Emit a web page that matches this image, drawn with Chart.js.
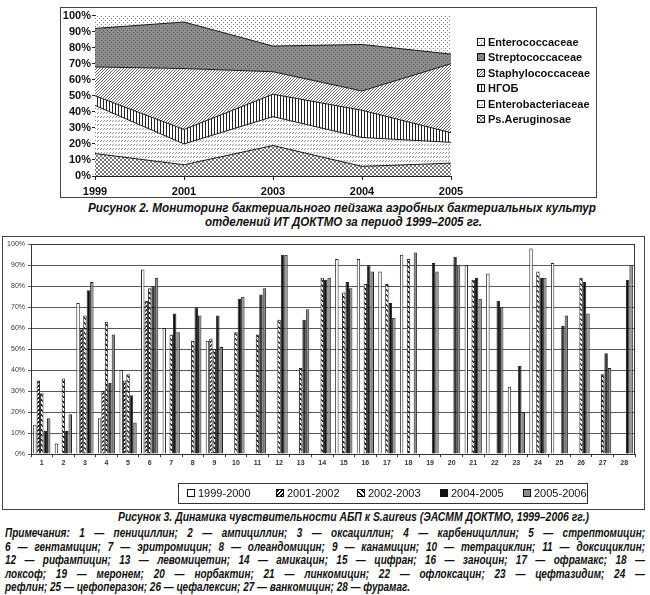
<!DOCTYPE html>
<html>
<head>
<meta charset="utf-8">
<title>Рисунки 2 и 3</title>
<script src="https://cdn.jsdelivr.net/npm/chart.js@4.4.1/dist/chart.umd.min.js"></script>
<style>
  body { margin: 0; width: 650px; height: 595px; overflow: hidden; background: #fff; position: relative;
         font-family: "Liberation Sans", Arial, sans-serif; color: #111; }
  .frame { position: absolute; border: 1px solid #444; }
  #frame1 { left: 60px; top: 7px; width: 535px; height: 189px; }
  #frame2 { left: 2px; top: 236px; width: 641px; height: 272px; }
  canvas { display: block; }
  .txt { position: absolute; white-space: nowrap; font-weight: bold; font-style: italic; line-height: 14px;
         transform-origin: 0 50%; }
</style>
</head>
<body>
<div class="frame" id="frame1"><canvas id="areaChart" width="535" height="189"></canvas></div>
<div class="frame" id="frame2"><canvas id="barChart" width="641" height="272"></canvas></div>
<div id="texts"></div>
<script>
// Рисунок 2 - структура флоры, %
const years = ['1999', '2001', '2003', '2004', '2005'];
const psAeruginosae = [14, 7, 19, 6, 8];
const enterobacteriaceae = [30, 13, 18, 18, 13];
const ngob = [6, 9, 14, 17, 6];
const staphylococcaceae = [18, 38, 14, 12, 43];
const streptococcaceae = [24, 29, 16, 29, 6];
const enterococcaceae = [8, 4, 19, 18, 24];

// Рисунок 3 - чувствительность S.aureus, %
const drugNumbers = ['1', '2', '3', '4', '5', '6', '7', '8', '9', '10', '11', '12', '13', '14',
                     '15', '16', '17', '18', '19', '20', '21', '22', '23', '24', '25', '26', '27', '28'];
const periods = ['1999-2000', '2001-2002', '2002-2003', '2004-2005', '2005-2006'];
const sens1999 = [14, 5, 72, 17, 40, 88, 60, null, 54, null, null, null, null, null,
                  93, 93, 87, 95, null, null, 90, 86, 32, 98, 91, null, null, null];
const sens2001 = [35, null, 60, 30, 35, 73, null, null, 55, null, null, null, null, null,
                  null, null, null, null, null, null, null, null, null, null, null, null, null, null];
const sens2002 = [29, 36, 66, 63, 38, 79, 57, 54, 50, 58, 57, 64, 41, 84,
                  77, 81, 81, 93, null, null, 83, null, null, 87, null, 84, 38, null];
const sens2004 = [11, 11, 78, 34, 28, 80, 67, 70, 66, 74, 76, 95, 64, 83,
                  82, 90, 72, null, 91, 94, 84, 73, 42, 84, 61, 82, 48, 83];
const sens2005 = [17, 19, 82, 57, 15, 84, 58, 66, 51, 75, 79, 95, 69, 84,
                  79, 87, 65, 96, 87, 90, 74, 70, 20, 84, 66, 67, 41, 90];

const caption2 = ['Рисунок 2. Мониторинг бактериального пейзажа аэробных бактериальных культур',
                  'отделений ИТ ДОКТМО за период 1999–2005 гг.'];
const caption3 = 'Рисунок 3. Динамика чувствительности АБП к S.aureus (ЭАСММ ДОКТМО, 1999–2006 гг.)';
const notes = [
  'Примечания: 1 — пенициллин; 2 — ампициллин; 3 — оксациллин; 4 — карбенициллин; 5 — стрептомицин;',
  '6 — гентамицин; 7 — эритромицин; 8 — олеандомицин; 9 — канамицин; 10 — тетрациклин; 11 — доксициклин;',
  '12 — рифампицин; 13 — левомицетин; 14 — амикацин; 15 — цифран; 16 — заноцин; 17 — офрамакс; 18 —',
  'локсоф; 19 — меронем; 20 — норбактин; 21 — линкомицин; 22 — офлоксацин; 23 — цефтазидим; 24 —',
  'рефлин; 25 — цефоперазон; 26 — цефалексин; 27 — ванкомицин; 28 — фурамаг.'
];

// штриховки
function pattern(w, h, bg, color, pts) {
  const c = document.createElement('canvas');
  c.width = w; c.height = h;
  const g = c.getContext('2d');
  g.fillStyle = bg;
  g.fillRect(0, 0, w, h);
  g.fillStyle = color;
  pts.forEach(p => g.fillRect(p[0], p[1], 1, 1));
  return g.createPattern(c, 'repeat');
}

const fillEnteroc = pattern(4, 4, '#fff', '#808080', [[0, 0], [2, 2]]);
const fillStrep = pattern(4, 4, '#8e8e8e', '#4a4a4a', [[0, 0], [2, 2]]);
const fillStaph = pattern(3, 3, '#fff', '#6a6a6a', [[2, 0], [1, 1], [0, 2]]);
const fillNgob = pattern(3, 1, '#fff', '#222', [[0, 0]]);
const fillEnterob = pattern(6, 4, '#fff', '#909090', [[0, 1], [1, 0], [3, 1], [4, 0]]);
const fillPs = pattern(4, 4, '#fff', '#777', [[0, 0], [1, 1], [2, 2], [3, 3], [3, 0], [2, 1], [1, 2], [0, 3]]);

const fillWhite = '#fff';
const fillChevron = pattern(4, 4, '#fff', '#111', [[0, 3], [1, 2], [2, 1], [3, 0], [1, 3], [2, 2], [3, 1], [0, 0]]);
const fillDiag = pattern(5, 5, '#fff', '#111', [[0, 0], [1, 1], [2, 2], [3, 3], [4, 4], [1, 0], [2, 1], [3, 2], [4, 3], [0, 4]]);
const fillBlack = '#111';
const fillGray = '#8c8c8c';

// легенда с рамкой, рисуется поверх графика
const boxLegend = {
  id: 'boxLegend',
  afterDraw(chart, args, o) {
    const ctx = chart.ctx;
    ctx.save();
    ctx.lineWidth = 1;
    if (o.frame) {
      ctx.strokeStyle = '#333';
      ctx.strokeRect(o.frame[0] + 0.5, o.frame[1] + 0.5, o.frame[2], o.frame[3]);
    }
    ctx.font = o.font;
    ctx.textBaseline = 'middle';
    o.order.forEach((di, k) => {
      const ds = chart.data.datasets[di];
      const x = Array.isArray(o.x) ? o.x[k] : o.x;
      const y = Array.isArray(o.y) ? o.y[k] : o.y;
      const top = Math.round(y - o.box / 2);
      ctx.fillStyle = ds.backgroundColor;
      ctx.fillRect(x, top, o.box, o.box);
      ctx.strokeStyle = '#111';
      ctx.strokeRect(x + 0.5, top + 0.5, o.box - 1, o.box - 1);
      ctx.fillStyle = '#111';
      ctx.fillText(ds.label, x + o.box + 3, y + 0.5);
    });
    ctx.restore();
  }
};

// рамка области построения
const plotFrame = {
  id: 'plotFrame',
  afterDatasetsDraw(chart) {
    const a = chart.chartArea, ctx = chart.ctx;
    ctx.save();
    ctx.strokeStyle = '#333';
    ctx.lineWidth = 1;
    ctx.strokeRect(Math.round(a.left) + 0.5, Math.round(a.top) + 0.5,
                   Math.round(a.right - a.left) - 1, Math.round(a.bottom - a.top));
    ctx.restore();
  }
};

Chart.defaults.font.family = '"Liberation Sans", Arial, sans-serif';
Chart.defaults.color = '#111';

const areaSeries = [
  { name: 'Ps.Aeruginosae', values: psAeruginosae, fill: fillPs },
  { name: 'Enterobacteriaceae', values: enterobacteriaceae, fill: fillEnterob },
  { name: 'НГОБ', values: ngob, fill: fillNgob },
  { name: 'Staphylococcaceae', values: staphylococcaceae, fill: fillStaph },
  { name: 'Streptococcaceae', values: streptococcaceae, fill: fillStrep },
  { name: 'Enterococcaceae', values: enterococcaceae, fill: fillEnteroc }
];

new Chart(document.getElementById('areaChart'), {
  type: 'line',
  data: {
    labels: years,
    datasets: areaSeries.map((s, i) => ({
      label: s.name,
      data: s.values,
      fill: i === 0 ? 'origin' : '-1',
      backgroundColor: s.fill,
      borderColor: '#1a1a1a',
      borderWidth: i === areaSeries.length - 1 ? 0 : 1,
      pointRadius: 0,
      tension: 0
    }))
  },
  options: {
    responsive: false,
    animation: false,
    layout: { padding: { left: 0, right: 145, top: 7, bottom: 0 } },
    plugins: {
      legend: { display: false },
      tooltip: { enabled: false },
      boxLegend: { x: 416, y: [34, 49, 65, 80, 96, 111], order: [5, 4, 3, 2, 1, 0], box: 8,
                   font: 'bold 11px "Liberation Sans", Arial, sans-serif' }
    },
    scales: {
      x: {
        grid: { drawOnChartArea: false, tickLength: 4, color: '#222' },
        border: { color: '#222' },
        ticks: { font: { size: 11, weight: 'bold' }, padding: 5, maxRotation: 0 },
        afterFit: s => { s.height = 21; }
      },
      y: {
        stacked: true, min: 0, max: 100,
        grid: { drawOnChartArea: false, tickLength: 3, color: '#222' },
        border: { color: '#222' },
        ticks: { stepSize: 10, autoSkip: false, callback: v => v + '%',
                 font: { size: 11, weight: 'bold' }, padding: 1 },
        afterFit: s => { s.width = 34; }
      }
    }
  },
  plugins: [boxLegend]
});

const barSeries = [
  { values: sens1999, fill: fillWhite },
  { values: sens2001, fill: fillChevron },
  { values: sens2002, fill: fillDiag },
  { values: sens2004, fill: fillBlack },
  { values: sens2005, fill: fillGray }
];

new Chart(document.getElementById('barChart'), {
  type: 'bar',
  data: {
    labels: drugNumbers,
    datasets: barSeries.map((s, i) => ({
      label: periods[i],
      data: s.values,
      backgroundColor: s.fill,
      borderColor: '#222',
      borderWidth: 1,
      categoryPercentage: 0.8,
      barPercentage: 1
    }))
  },
  options: {
    responsive: false,
    animation: false,
    layout: { padding: { left: 0, right: 9, top: 7, bottom: 0 } },
    plugins: {
      legend: { display: false },
      tooltip: { enabled: false },
      boxLegend: { x: [184, 273, 354, 437, 520], y: 256, order: [0, 1, 2, 3, 4], box: 8,
                   frame: [175, 246, 409, 20], font: '11px "Liberation Sans", Arial, sans-serif' }
    },
    scales: {
      x: {
        grid: { drawOnChartArea: false, tickLength: 3, color: '#333' },
        border: { color: '#333' },
        ticks: { font: { size: 7, weight: 'bold' }, padding: 2, maxRotation: 0, autoSkip: false, color: '#333' },
        afterFit: s => { s.height = 55; }
      },
      y: {
        min: 0, max: 100,
        grid: { color: '#5a5a5a', tickLength: 3 },
        border: { color: '#333' },
        ticks: { stepSize: 10, autoSkip: false, callback: v => v + '%', font: { size: 7 }, padding: 3, color: '#333' },
        afterFit: s => { s.width = 28; }
      }
    }
  },
  plugins: [boxLegend, plotFrame]
});

// подписи и примечания (шрифт в оригинале узкий - поджимаем по ширине)
const measure = document.createElement('canvas').getContext('2d');
function natWidth(text, size) {
  measure.font = 'italic bold ' + size + 'px "Liberation Sans", Arial, sans-serif';
  return measure.measureText(text).width;
}
const texts = document.getElementById('texts');
function addLine(text, size, left, cy, squeeze, spacing) {
  const d = document.createElement('div');
  d.className = 'txt';
  d.textContent = text;
  d.style.fontSize = size + 'px';
  d.style.left = left + 'px';
  d.style.top = (cy - 7) + 'px';
  d.style.transform = 'scaleX(' + squeeze + ')';
  if (spacing) d.style.wordSpacing = spacing + 'px';
  texts.appendChild(d);
}
function addCentered(text, size, width, cx, cy) {
  addLine(text, size, cx - width / 2, cy, width / natWidth(text, size));
}
addCentered(caption2[0], 12.5, 508, 342, 208);
addCentered(caption2[1], 12.5, 277, 343, 222);
addCentered(caption3, 12, 471, 353, 517);

const noteSize = 13;
const noteSqueeze = 405 / natWidth(notes[4], noteSize);
notes.forEach((line, i) => {
  let spacing = 0;
  if (i < notes.length - 1) {
    const gaps = line.split(' ').length - 1;
    spacing = (640 / noteSqueeze - natWidth(line, noteSize)) / gaps;
  }
  addLine(line, noteSize, 5, 533 + i * 13.5, noteSqueeze, spacing);
});
</script>
</body>
</html>
